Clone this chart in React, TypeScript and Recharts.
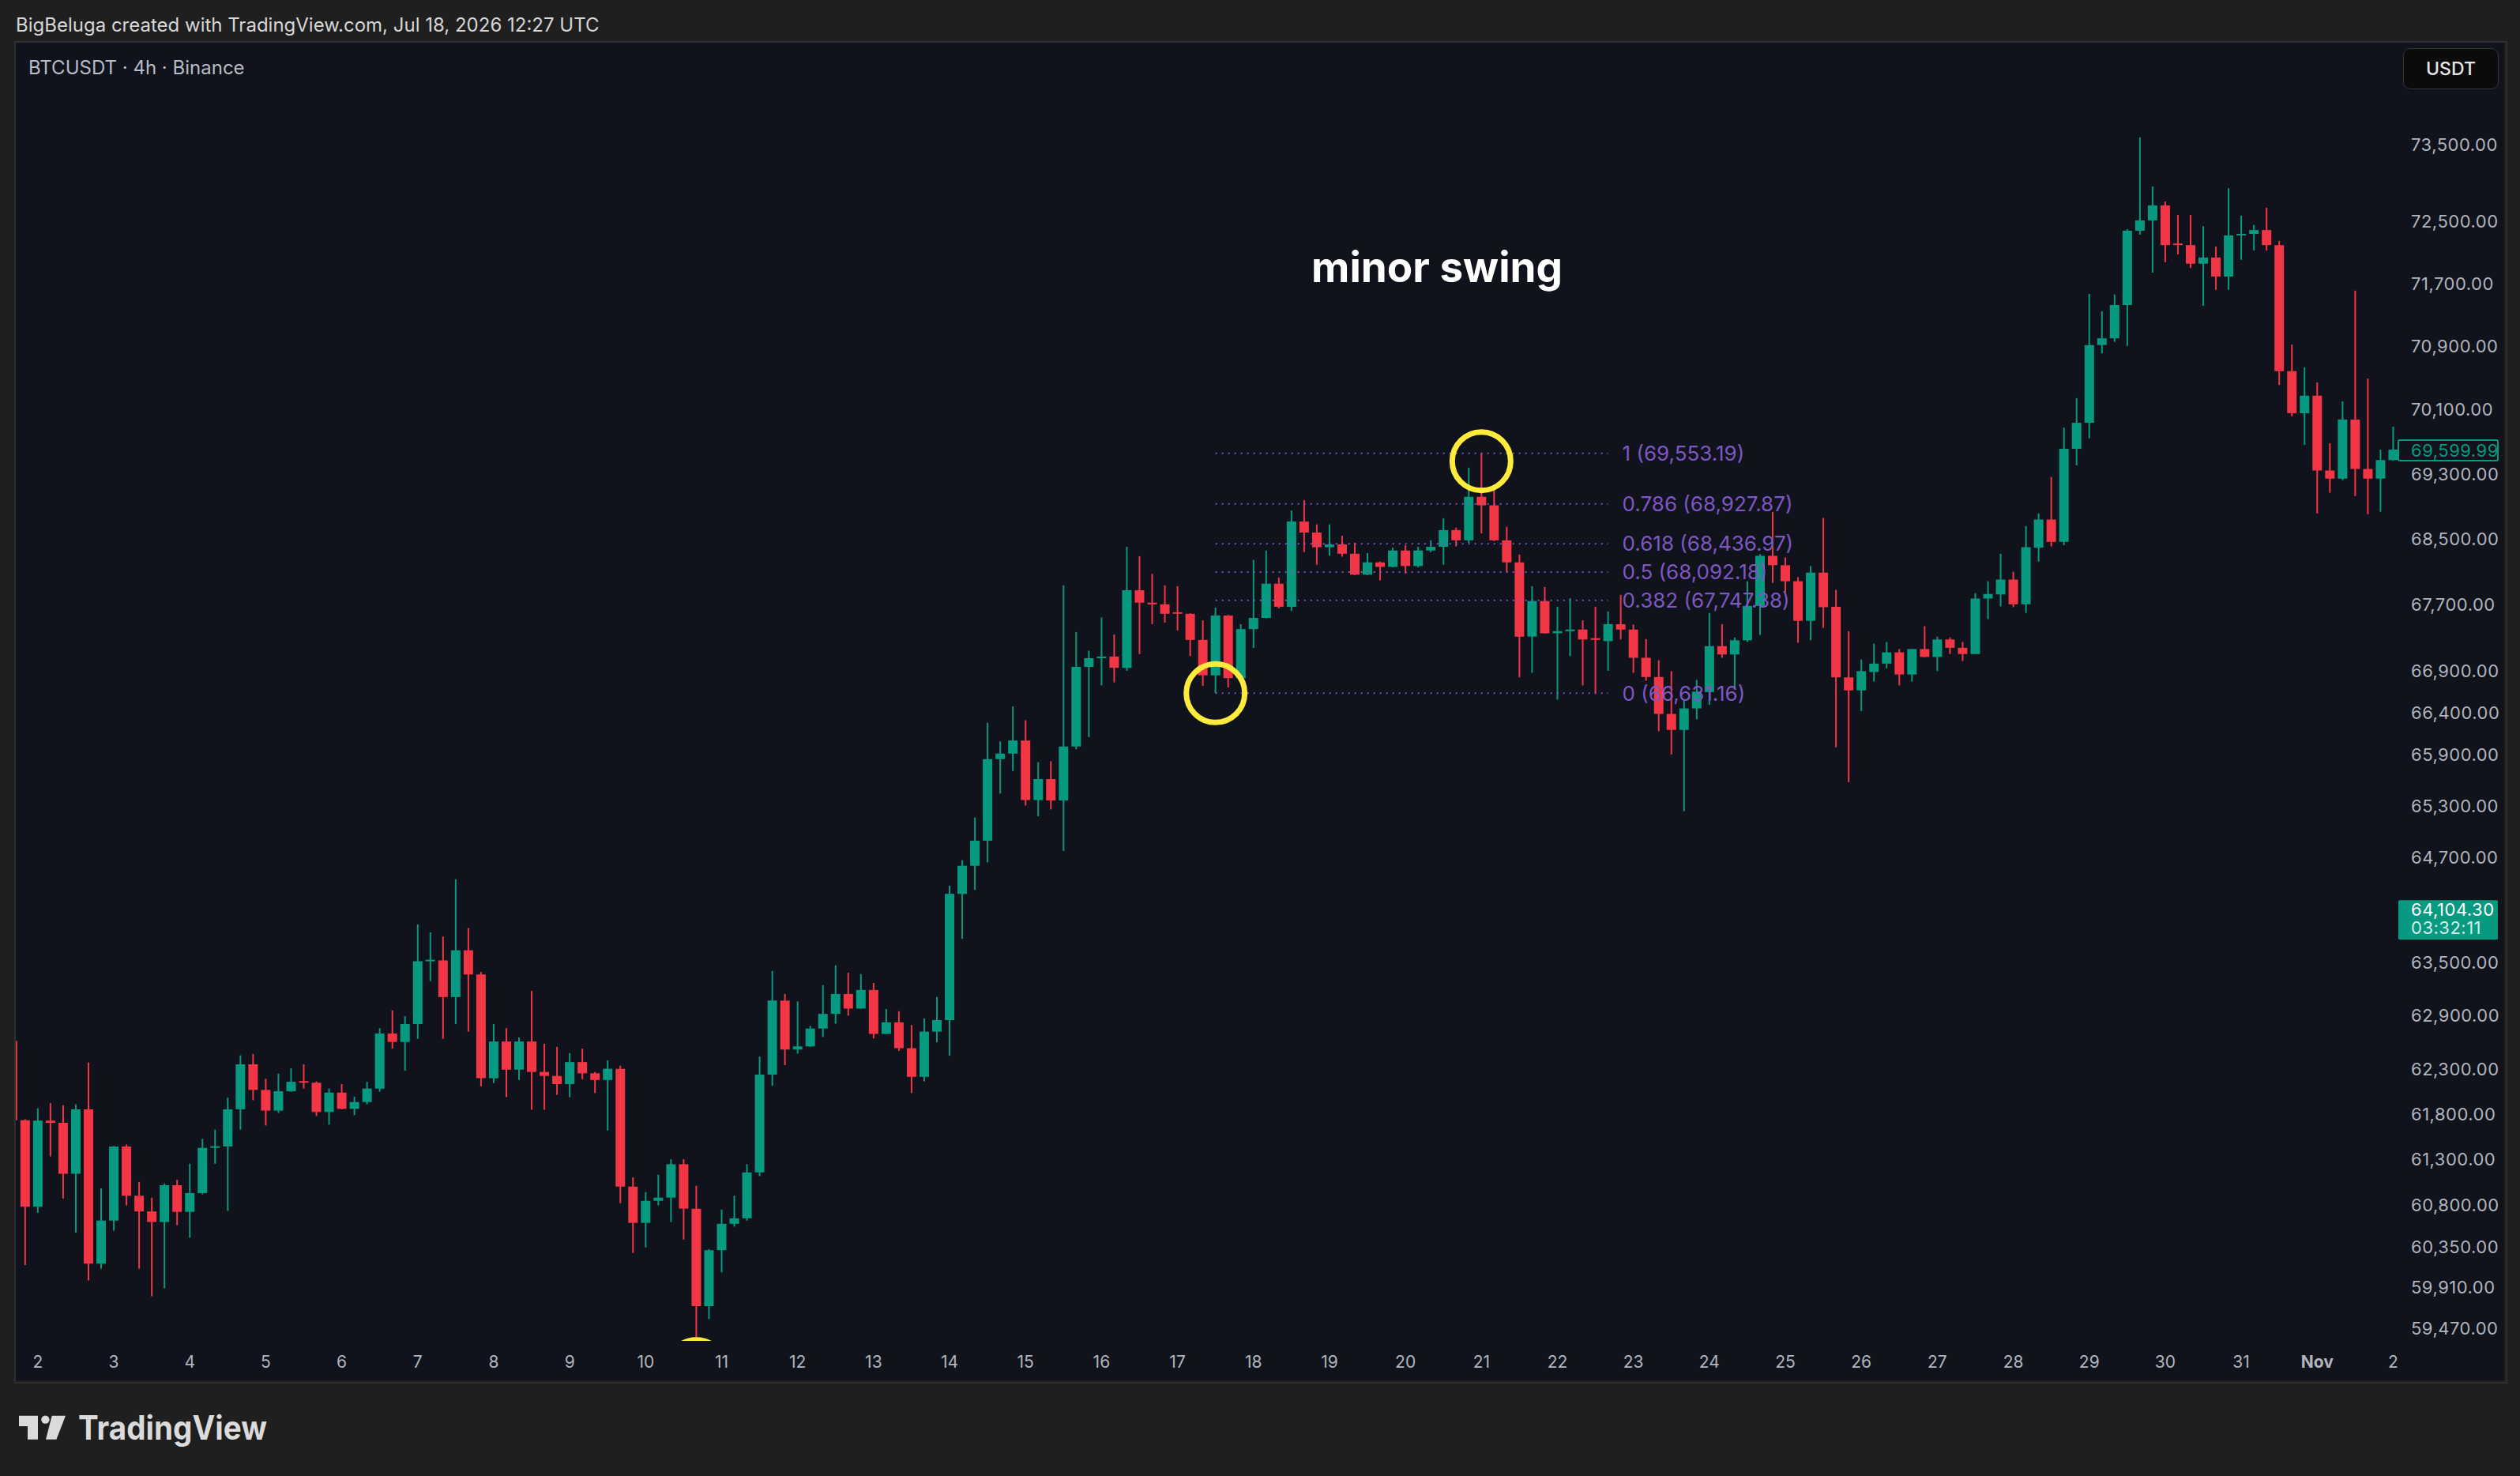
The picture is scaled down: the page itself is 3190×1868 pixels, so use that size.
import React from "react";
import {
  ComposedChart,
  Bar,
  XAxis,
  YAxis,
  Cell,
  ReferenceLine,
  ReferenceDot,
} from "recharts";

// BTCUSDT 4h candles, Oct 1 16:00 -> Nov 2 00:00
const opens = [
  62610, 61730, 60780, 61725, 61700, 61140, 61850, 60165, 60630, 61440,
  60900, 60730, 60615, 61015, 60725, 60930, 61425, 61440, 61850, 62350,
  62065, 61835, 62050, 62160, 62145, 61820, 62035, 61855, 61930, 62080,
  62695, 62600, 62800, 63510, 63520, 63105, 63635, 63360, 62195, 62605,
  62290, 62605, 62265, 62220, 62130, 62375, 62250, 62175, 62300, 61000,
  60605, 60845, 60880, 61245, 60760, 59710, 60310, 60595, 60655, 61155,
  62235, 63065, 62515, 62550, 62750, 62915, 63140, 62975, 63185, 62690,
  62820, 62530, 62210, 62715, 62845, 64280, 64605, 64895, 65850, 65915,
  66070, 65370, 65615, 65365, 66000, 66945, 67050, 67070, 66935, 67870,
  67720, 67700, 67600, 67585, 67270, 66845, 67565, 66810, 67400, 67535,
  67950, 67670, 68710, 68575, 68395, 68430, 68315, 68060, 68210, 68155,
  68355, 68165, 68355, 68400, 68605, 68480, 69015, 68910, 68480, 68210,
  67310, 67740, 67350, 67375, 67395, 67290, 67255, 67460, 67395, 67055,
  66825, 66385, 66195, 66450, 66645, 67195, 67095, 67265, 67680, 68290,
  68175, 67980, 67500, 68085, 67670, 66820, 66665, 66885, 66985, 67120,
  66855, 67160, 67065, 67275, 67175, 67100, 67770, 67820, 68000, 67700,
  68390, 68735, 68460, 69610, 69935, 70915, 71000, 71425, 72380, 72515,
  72710, 72215, 72195, 71955, 72035, 71790, 72320, 72340, 72390, 72195,
  70585, 70055, 70275, 69340, 69240, 69975, 69360, 69240, 69470,
];

const highs = [
  62680, 61740, 61860, 61920, 61895, 61905, 62370, 60980, 61445, 61460,
  61050, 60880, 61035, 61075, 61250, 61525, 61625, 61980, 62450, 62465,
  62190, 62245, 62305, 62350, 62160, 62080, 62130, 61990, 62155, 62755,
  62955, 62890, 63930, 63840, 63790, 64450, 63890, 63390, 62800, 62755,
  62650, 63175, 62580, 62545, 62475, 62525, 62265, 62395, 62335, 61100,
  60940, 61130, 61300, 61300, 61010, 60320, 60750, 60900, 61245, 62435,
  63400, 63140, 63055, 62780, 63240, 63465, 63380, 63365, 63265, 62970,
  62945, 62790, 62865, 63105, 64375, 64670, 65165, 66280, 66060, 66475,
  66310, 65815, 65825, 67930, 67365, 67140, 67540, 67335, 68400, 68285,
  68070, 67930, 67920, 67590, 67505, 67660, 67570, 67460, 68240, 68355,
  68025, 68845, 68975, 68675, 68675, 68535, 68450, 68325, 68220, 68390,
  68420, 68400, 68480, 68750, 68635, 69375, 69553.19, 69160, 68645, 68305,
  67920, 67910, 67670, 67775, 67505, 67670, 67615, 67815, 67455, 67280,
  67025, 66895, 66555, 66790, 67595, 67460, 67300, 67980, 68310, 68830,
  68270, 68030, 68165, 68755, 67875, 67375, 67035, 67225, 67245, 67160,
  67160, 67435, 67310, 67300, 67245, 67835, 67980, 68315, 68095, 68655,
  68810, 69260, 69875, 70245, 71565, 71345, 71560, 72400, 73600, 72955,
  72760, 72585, 72585, 72440, 72175, 72935, 72575, 72455, 72680, 72250,
  70920, 70635, 70440, 69680, 70205, 71610, 70490, 69600, 69885,
];

const lows = [
  61710, 60150, 60715, 61330, 60870, 60500, 59985, 60110, 60520, 60795,
  60110, 59815, 59900, 60580, 60445, 60915, 61250, 60735, 61625, 61950,
  61670, 61810, 62045, 62080, 61775, 61680, 61850, 61785, 61905, 62045,
  62525, 62280, 62635, 63285, 62635, 62800, 62715, 62105, 62140, 61985,
  62175, 61845, 61845, 62010, 61985, 62185, 62030, 61615, 60820, 60280,
  60340, 60795, 60615, 60425, 59365, 59570, 60070, 60565, 60630, 61115,
  62110, 62340, 62470, 62545, 62655, 62805, 62895, 62975, 62640, 62690,
  62500, 62030, 62160, 62595, 62445, 63765, 64325, 64645, 65445, 65710,
  65305, 65180, 65260, 64775, 65965, 66110, 66725, 66760, 66900, 67100,
  67460, 67480, 67385, 67075, 66720, 66631.16, 66700, 66805, 67175, 67530,
  67650, 67620, 68335, 68180, 68290, 68280, 68055, 68055, 67990, 68150,
  68075, 68150, 68335, 68180, 68405, 68445, 68565, 68470, 68095, 66820,
  66875, 67345, 66555, 67075, 66725, 66635, 66900, 67275, 66875, 66780,
  66180, 65905, 65240, 66320, 66495, 67055, 66675, 67245, 67330, 67960,
  67815, 67235, 67265, 67415, 65990, 65580, 66420, 66770, 66930, 66725,
  66770, 67060, 66895, 67100, 67015, 67100, 67520, 67675, 67665, 67595,
  68220, 68405, 68420, 69405, 69740, 70810, 70955, 70905, 72330, 71840,
  71975, 72075, 71900, 71415, 71620, 71620, 72005, 72125, 72125, 70410,
  70015, 69660, 68810, 69065, 69220, 69025, 68800, 68830, 69460,
];

const closes = [
  61730, 60780, 61725, 61700, 61140, 61850, 60165, 60630, 61440, 60900,
  60730, 60615, 61015, 60725, 60930, 61425, 61440, 61850, 62350, 62065,
  61835, 62050, 62155, 62145, 61820, 62035, 61855, 61930, 62080, 62695,
  62600, 62800, 63510, 63520, 63105, 63635, 63360, 62195, 62605, 62290,
  62605, 62265, 62220, 62130, 62375, 62250, 62175, 62300, 61000, 60605,
  60845, 60880, 61245, 60760, 59710, 60310, 60595, 60655, 61155, 62235,
  63065, 62515, 62550, 62750, 62915, 63140, 62975, 63185, 62690, 62820,
  62530, 62210, 62715, 62845, 64280, 64605, 64895, 65850, 65915, 66070,
  65370, 65615, 65365, 66000, 66945, 67050, 67070, 66935, 67870, 67720,
  67700, 67585, 67585, 67270, 66845, 67565, 66810, 67400, 67535, 67950,
  67670, 68710, 68575, 68395, 68430, 68315, 68060, 68210, 68155, 68355,
  68165, 68355, 68400, 68605, 68480, 69015, 68910, 68480, 68210, 67310,
  67740, 67350, 67375, 67395, 67275, 67270, 67460, 67395, 67055, 66825,
  66385, 66195, 66450, 66650, 67195, 67095, 67265, 67680, 68290, 68175,
  67980, 67500, 68085, 67665, 66820, 66665, 66895, 66985, 67120, 66855,
  67160, 67065, 67275, 67175, 67100, 67770, 67825, 68000, 67700, 68395,
  68735, 68460, 69610, 69935, 70915, 71000, 71425, 72380, 72515, 72710,
  72195, 72195, 71955, 72035, 71790, 72320, 72340, 72390, 72195, 70585,
  70055, 70275, 69340, 69240, 69975, 69360, 69240, 69470, 69599.99,
];

// day labels, one per 00:00 candle starting at Oct 2
const dayLabels = [
  "2", "3", "4", "5", "6", "7", "8", "9", "10", "11", "12", "13", "14", "15",
  "16", "17", "18", "19", "20", "21", "22", "23", "24", "25", "26", "27",
  "28", "29", "30", "31", "Nov", "2",
];
const firstDayIndex = 2;

const priceTicks = [
  73500, 72500, 71700, 70900, 70100, 69300, 68500, 67700, 66900, 66400,
  65900, 65300, 64700, 63500, 62900, 62300, 61800, 61300, 60800, 60350,
  59910, 59470,
];

// fib retracement of the minor swing
const fibRatios = ["1", "0.786", "0.618", "0.5", "0.382", "0"];
const fibPrices = [69553.19, 68927.87, 68436.97, 68092.18, 67747.38, 66631.16];
const fibStart = 95;
const fibEnd = 126;

// swing markers (candle index, price)
const swingIdx = [95, 116, 54];
const swingPrice = [66631.16, 69456, 59040];

const lastPrice = 69599.99;
const tagPrice = 64104.3;
const tagCountdown = "03:32:11";

const UP = "#089981";
const DOWN = "#f23645";
const FIB = "#7e57c2";
const AXIS_TEXT = "#b2b5be";
const PANEL_BG = "#10131b";
const PAGE_BG = "#1f1f1f";
const FONT = "Inter, 'Noto Sans', sans-serif";

const data = opens.map((o, i) => ({
  i,
  o,
  c: closes[i],
  wick: [lows[i], highs[i]],
  body: [Math.min(o, closes[i]), Math.max(o, closes[i])],
}));

const fmt = (v: number) =>
  v.toLocaleString("en-US", { minimumFractionDigits: 2, maximumFractionDigits: 2 });

const DayTick = (props: any) => {
  const { x, y, payload } = props;
  const k = payload.value - firstDayIndex;
  if (k < 0 || k % 6 !== 0 || !dayLabels[k / 6]) return <g />;
  const label = dayLabels[k / 6];
  return (
    <text
      x={x}
      y={y - 4}
      textAnchor="middle"
      dominantBaseline="central"
      fill={AXIS_TEXT}
      fontSize={21}
      fontWeight={label === "Nov" ? 700 : 400}
      fontFamily={FONT}
    >
      {label}
    </text>
  );
};

const PriceTick = (props: any) => {
  const { x, y, payload } = props;
  return (
    <text
      x={x + 14.5}
      y={y}
      dominantBaseline="central"
      fill={AXIS_TEXT}
      fontSize={22}
      fontFamily={FONT}
      letterSpacing={0.5}
    >
      {fmt(payload.value)}
    </text>
  );
};

const LastPriceTag = (props: any) => {
  const { viewBox } = props;
  const x = viewBox.x + viewBox.width - 1.5;
  return (
    <g>
      <rect x={x} y={viewBox.y - 12} width={126} height={26} rx={2} fill={PANEL_BG} stroke={UP} strokeWidth={2} />
      <text x={x + 16} y={viewBox.y + 1} dominantBaseline="central" fill={UP} fontSize={22} fontFamily={FONT} letterSpacing={0.5}>
        {fmt(lastPrice)}
      </text>
    </g>
  );
};

const CountdownTag = (props: any) => {
  const { viewBox } = props;
  const x = viewBox.x + viewBox.width - 1.5;
  return (
    <g>
      <rect x={x} y={viewBox.y - 11.5} width={126} height={50} rx={2} fill={UP} />
      <text x={x + 16} y={viewBox.y} dominantBaseline="central" fill="#ffffff" fontSize={22} fontFamily={FONT} letterSpacing={0.5}>
        {fmt(tagPrice)}
      </text>
      <text x={x + 16} y={viewBox.y + 23} dominantBaseline="central" fill="#d4efe9" fontSize={22} fontFamily={FONT} letterSpacing={0.5}>
        {tagCountdown}
      </text>
    </g>
  );
};

const App = () => {
  return (
    <div
      style={{
        position: "fixed",
        left: 0,
        top: 0,
        width: 3190,
        height: 1868,
        background: PAGE_BG,
        overflow: "hidden",
        fontFamily: FONT,
      }}
    >
      <div style={{ position: "absolute", left: 20, top: 16, fontSize: 24, color: "#d6d6d6", lineHeight: "32px" }}>
        BigBeluga created with TradingView.com, Jul 18, 2026 12:27 UTC
      </div>

      {/* chart panel background */}
      <div style={{ position: "absolute", left: 19, top: 53, width: 3151, height: 1694, background: PANEL_BG }} />

      <div style={{ position: "absolute", left: 0, top: 0 }}>
        <ComposedChart
          width={3190}
          height={1868}
          data={data}
          margin={{ top: 55, right: 20, bottom: 121, left: 7.8 }}
        >
          <XAxis
            xAxisId="main"
            dataKey="i"
            height={50}
            interval={0}
            tickLine={false}
            axisLine={false}
            tickSize={0}
            tickMargin={0}
            tick={<DayTick />}
          />
          <XAxis xAxisId="body" dataKey="i" hide />
          <YAxis
            orientation="right"
            width={132.5}
            scale="log"
            domain={[59338.9, 74847.6]}
            allowDataOverflow
            ticks={priceTicks}
            interval={0}
            tickLine={false}
            axisLine={false}
            tickSize={0}
            tickMargin={0}
            tick={<PriceTick />}
          />

          {fibPrices.map((p, k) => (
            <ReferenceLine
              key={fibRatios[k]}
              xAxisId="main"
              segment={[
                { x: fibStart, y: p },
                { x: fibEnd, y: p },
              ]}
              stroke={FIB}
              strokeWidth={2}
              strokeDasharray="2 6"
              label={{
                value: `${fibRatios[k]} (${fmt(p)})`,
                position: "right",
                offset: 18,
                fill: FIB,
                fontSize: 26,
                fontFamily: FONT,
              }}
            />
          ))}

          {swingIdx.map((ix, k) => (
            <ReferenceDot
              key={ix}
              xAxisId="main"
              x={ix}
              y={swingPrice[k]}
              r={37}
              fill="none"
              stroke="#ffeb3b"
              strokeWidth={7}
              ifOverflow="hidden"
            />
          ))}

          <Bar xAxisId="main" dataKey="wick" barSize={2} isAnimationActive={false}>
            {data.map((d) => (
              <Cell key={d.i} fill={d.c >= d.o ? UP : DOWN} />
            ))}
          </Bar>
          <Bar xAxisId="body" dataKey="body" barSize={12} minPointSize={2} isAnimationActive={false}>
            {data.map((d) => (
              <Cell key={d.i} fill={d.c >= d.o ? UP : DOWN} />
            ))}
          </Bar>

          <ReferenceLine xAxisId="main" y={tagPrice} stroke="none" label={<CountdownTag />} />
          <ReferenceLine xAxisId="main" y={lastPrice} stroke="none" label={<LastPriceTag />} />
        </ComposedChart>
      </div>

      {/* cover the candle cut by the panel edge */}
      <div style={{ position: "absolute", left: 0, top: 53, width: 19, height: 1700, background: PAGE_BG }} />
      <div
        style={{
          position: "absolute",
          left: 18,
          top: 52,
          width: 3152,
          height: 1695,
          border: "2px solid #2e2e2e",
          pointerEvents: "none",
        }}
      />

      <div style={{ position: "absolute", left: 36, top: 70, fontSize: 24, color: "#b8bcc6", lineHeight: "32px" }}>
        BTCUSDT · 4h · Binance
      </div>

      <div
        style={{
          position: "absolute",
          left: 3042,
          top: 61,
          width: 119,
          height: 50,
          borderRadius: 9,
          background: "#0b0b0c",
          border: "1.5px solid #353535",
          color: "#e6e6e6",
          fontSize: 23,
          fontWeight: 500,
          display: "flex",
          alignItems: "center",
          justifyContent: "center",
        }}
      >
        USDT
      </div>

      <div
        style={{
          position: "absolute",
          left: 1819,
          top: 338,
          transform: "translate(-50%, -50%)",
          color: "#ffffff",
          fontSize: 53,
          fontWeight: 700,
          whiteSpace: "nowrap",
        }}
      >
        minor swing
      </div>

      <svg width={400} height={80} style={{ position: "absolute", left: 0, top: 1770 }}>
        <path d="M24 21.7 H48 V51.7 H35 V35 H24 Z" fill="#dbdbdb" />
        <circle cx={57.4} cy={26.6} r={5.2} fill="#dbdbdb" />
        <path d="M65.7 21.7 H83 L71.4 51.7 H58 Z" fill="#dbdbdb" />
        <text
          x={99}
          y={51.7}
          fontSize={42}
          fontWeight={700}
          fill="#dbdbdb"
          fontFamily={FONT}
          textLength={239}
          lengthAdjust="spacingAndGlyphs"
        >
          TradingView
        </text>
      </svg>
    </div>
  );
};

export default App;
